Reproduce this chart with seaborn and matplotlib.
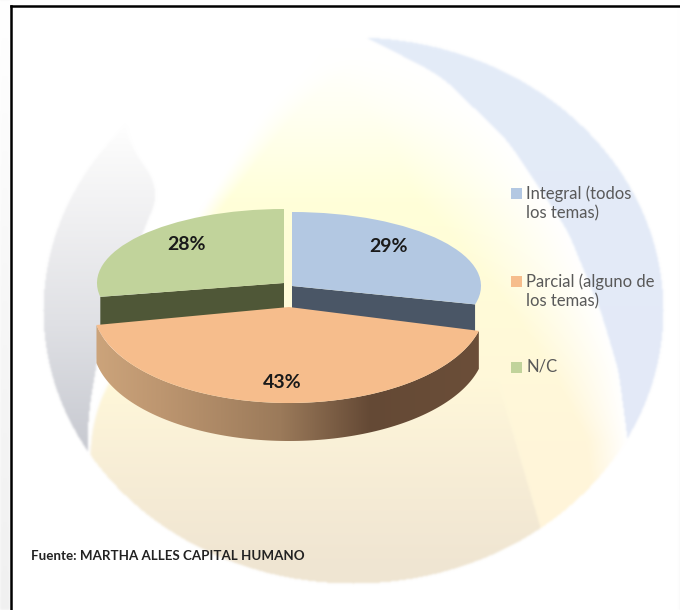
import numpy as np
import matplotlib
matplotlib.use("Agg")
import matplotlib.pyplot as plt
from matplotlib.colors import to_rgb
from matplotlib.patches import Polygon, Rectangle
import seaborn as sns

# datos del grafico
categorias = ["Integral (todos\nlos temas)", "Parcial (alguno de\nlos temas)", "N/C"]
valores = [29, 43, 28]
etiquetas = ["29%", "43%", "28%"]
colores = ["#B3C8E2", "#F6BD8C", "#C1D39B"]
colores_corte = ["#4A5666", None, "#4F5737"]
fuente = "Fuente: MARTHA ALLES CAPITAL HUMANO"

sns.set_theme(style="white")
plt.rcParams["font.family"] = ["Lato", "DejaVu Sans"]

W, H = 680, 610
fig = plt.figure(figsize=(W / 100, H / 100), dpi=100)
ax = fig.add_axes([0, 0, 1, 1])


def grad(y, stops, cols):
    return np.stack([np.interp(y, stops, [to_rgb(c)[i] for c in cols]) for i in range(3)], axis=-1)


def curva(ys, xs, n=61):
    # borde suavizado x(y) para todo el alto de la imagen
    x = np.interp(np.arange(-n, H + n), ys, xs)
    x = np.convolve(x, np.ones(n) / n, mode="same")[n:-n]
    return np.tile(x[:, None], (1, W))


# --- fondo decorativo ---
yy, xx = np.mgrid[0:H, 0:W].astype(float)
img = np.ones((H, W, 3))
dentro = ((xx - 353) / 310) ** 2 + ((yy - 310) / 273) ** 2 <= 1

x_curva = curva([20, 35, 75, 140, 230, 310, 370, 438, 610], [330, 362, 440, 507, 567, 600, 618, 627, 640], n=25)

# media luna azul
azul = dentro & (xx > x_curva) & (yy > 35)
img[azul] = grad(yy, [35, 440], ["#E4ECF8", "#E3E9F7"])[azul]

# media luna gris
gris_x = curva([137, 190, 230, 300, 340, 413, 450], [125, 160, 143, 118, 100, 88, 87], n=41)
gris = dentro & (xx < gris_x) & (yy < 452)
img[gris] = grad(yy, [120, 150, 230, 320, 440], ["#FFFFFF", "#FAFAFA", "#EEEEF0", "#E0E1E5", "#C9CBD2"])[gris]

# zona calida central
borde_x = curva([50, 107, 210, 380, 417, 450, 610], [330, 267, 200, 107, 93, 89, 89], n=41)
calida = dentro & (xx > borde_x) & (xx < x_curva) & (yy > 50)
c_calida = grad(yy, [50, 110, 200, 300, 440, 590], ["#FFFFFF", "#FFFFF2", "#FFFFD9", "#FFFBD8", "#FFF6DA", "#FFF3D9"])
ancho = np.interp(yy, [50, 200, 440], [100, 130, 40])
mezcla = np.clip((x_curva - xx) / ancho, 0, 1)
mezcla = mezcla * np.clip((xx - borde_x) / np.interp(yy, [50, 250, 400], [40, 15, 2]), 0, 1)
c_calida = 1 + (c_calida - 1) * mezcla[..., None]
# parte beige, a la izquierda de la linea inferior
linea_x = np.interp(yy, [300, 380, 527, 610], [470, 497, 540, 560])
beige = np.clip((yy - 380) / 190, 0, 1)[..., None] * (xx < linea_x)[..., None]
c_calida = c_calida + (np.array(to_rgb("#EFE5D2")) - c_calida) * beige
img[calida] = c_calida[calida]

# franja gris fuera del marco
izq = xx < 10
img[izq] = grad(yy, [0, 300, 610], ["#FFFFFF", "#F7F7F7", "#F0F0F0"])[izq]

# suavizado, la imagen original esta algo borrosa
for _ in range(3):
    img = (img + np.roll(img, 1, 0) + np.roll(img, -1, 0) + np.roll(img, 1, 1) + np.roll(img, -1, 1)) / 5

ax.imshow(img, extent=(0, W, H, 0), aspect="auto", interpolation="bilinear", zorder=0)
ax.set_xlim(0, W)
ax.set_ylim(H, 0)
ax.axis("off")

# marco
ax.plot([11, 11], [H, 6], color="black", lw=1.8, zorder=1, solid_capstyle="projecting")
ax.plot([11, W], [6, 6], color="black", lw=1.8, zorder=1, solid_capstyle="projecting")

# --- torta: cada porcion en sus propios ejes porque la perspectiva las deforma ---
cajas = [(292, 286, 189, 74), (289, 307, 196, 96), (284, 283, 187, 74)]  # cx, cy, rx, ry
prof = [28, 38, 32]  # las caras oscuras siguen por debajo de la porcion naranja


def punto(caja, ang):
    cx, cy, rx, ry = caja
    return cx + rx * np.cos(np.radians(ang)), cy - ry * np.sin(np.radians(ang))


for i, caja in enumerate(cajas):
    cx, cy, rx, ry = caja
    sub = fig.add_axes([(cx - rx) / W, 1 - (cy + ry) / H, 2 * rx / W, 2 * ry / H], zorder=3 if i == 1 else 2)
    wedges, _ = sub.pie(valores, colors=colores, startangle=90, counterclock=False, radius=1,
                        wedgeprops={"linewidth": 0})
    for j, w in enumerate(wedges):
        w.set_visible(j == i)
    sub.set_aspect("auto")
    sub.set_xlim(-1, 1)
    sub.set_ylim(-1, 1)
    sub.patch.set_alpha(0)
    w = wedges[i]
    if i == 1:
        # costado curvo de la porcion naranja, con degradado
        t = np.linspace(w.theta1, w.theta2, 120)
        px, py = punto(caja, t)
        verts = np.vstack([np.c_[px, py], np.c_[px, py + prof[i]][::-1]])
        gr = grad(np.arange(90, 490.0), [90, 160, 280, 370, 490],
                  ["#CDA57C", "#BD9670", "#9B7A5A", "#644935", "#6C4F39"])[None, ...]
        im = ax.imshow(gr, extent=(90, 490, 450, 300), aspect="auto", zorder=2)
        im.set_clip_path(Polygon(verts, transform=ax.transData))
    else:
        # cara de corte oscura
        ang = w.theta2 if i == 2 else w.theta1
        ex, ey = punto(caja, ang)
        d = prof[i]
        ax.add_patch(Polygon([(cx, cy), (ex, ey), (ex, ey + d), (cx, cy + d)],
                             facecolor=colores_corte[i], edgecolor="none", zorder=2))

ax.set_xlim(0, W)
ax.set_ylim(H, 0)

# etiquetas de porcentaje
pos_etiquetas = [(389, 247), (282, 382), (187, 244)]
texto = fig.add_axes([0, 0, 1, 1], zorder=5)
texto.set_xlim(0, W)
texto.set_ylim(H, 0)
texto.axis("off")
for (x, y), e in zip(pos_etiquetas, etiquetas):
    texto.text(x, y, e, ha="center", va="center", fontsize=14, fontweight="bold", color="#1A1A1A")

# leyenda
pos_leyenda = [188, 276, 362]
for y, c, nombre in zip(pos_leyenda, colores, categorias):
    texto.add_patch(Rectangle((511, y), 11, 11, facecolor=c, edgecolor="none"))
    texto.text(526, y - 3, nombre, ha="left", va="top", fontsize=12, color="#595959", linespacing=1.32)

texto.text(31, 556, fuente, ha="left", va="center", fontsize=9.6, fontweight="bold", color="#222222")

fig.savefig("out.png", dpi=100)
